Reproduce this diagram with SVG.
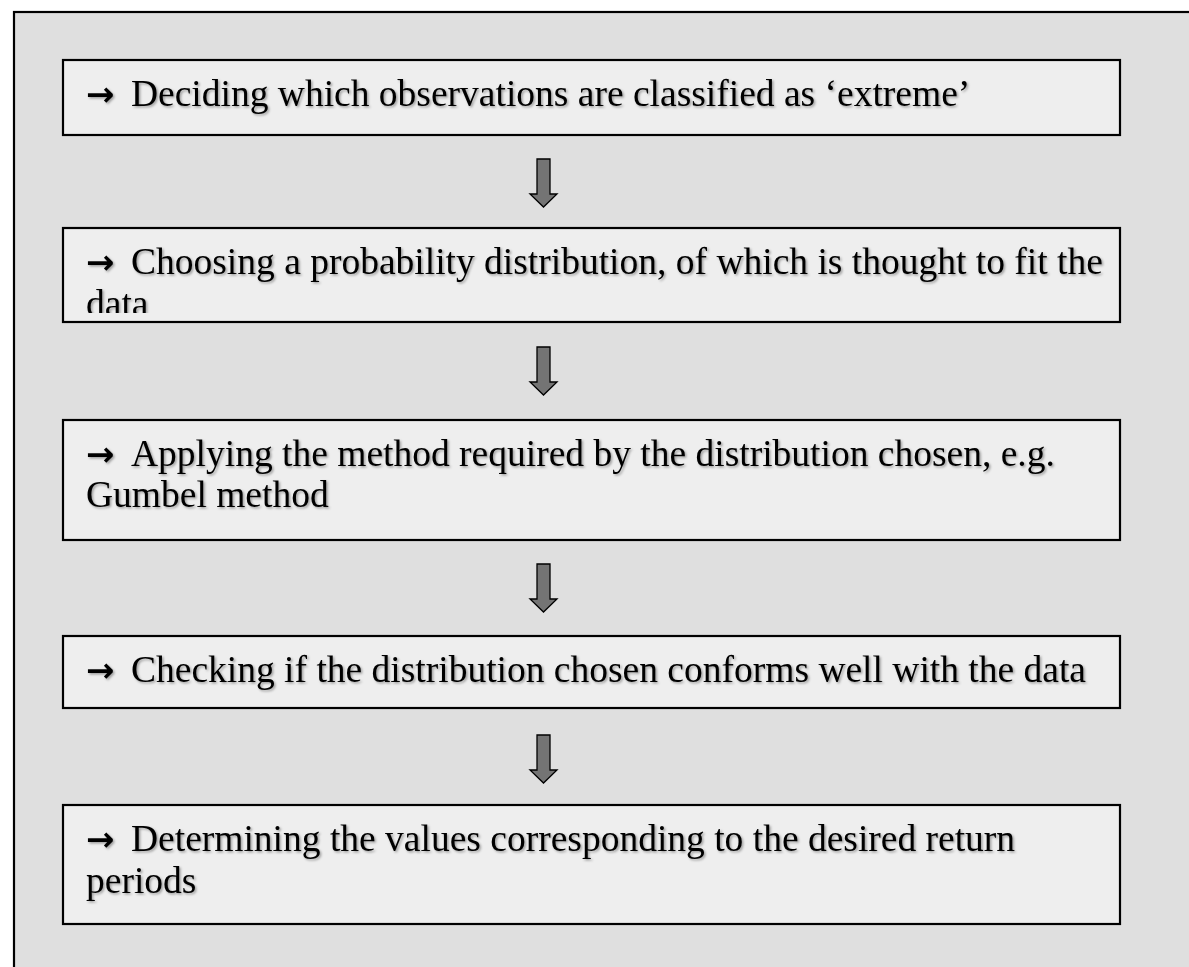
<svg xmlns="http://www.w3.org/2000/svg" width="1189" height="967" viewBox="0 0 1189 967">
<style>
.box{fill:#eeeeee;stroke:#000;stroke-width:2.2}
.t{font-family:"Liberation Serif","Times New Roman",serif;font-size:37.5px;fill:#000;filter:url(#sh)}
.ar{font-family:"DejaVu Sans",sans-serif;font-weight:bold;font-size:34px}
.conn{fill:#747474;stroke:#000;stroke-width:1.3;stroke-linejoin:miter}
</style>
<defs>
<filter id="sh" x="-5%" y="-20%" width="110%" height="150%">
<feDropShadow dx="1.5" dy="1.5" stdDeviation="0.8" flood-color="#000" flood-opacity="0.35"/>
</filter>
<clipPath id="c2"><rect x="63" y="229" width="1056" height="84"/></clipPath>
</defs>
<rect x="14" y="12" width="1200" height="1000" fill="#dfdfdf" stroke="#000" stroke-width="2.2"/>
<g id="n1">
<rect class="box" x="63" y="60" width="1057" height="75"/>
<text class="t" y="106"><tspan class="ar" x="86">→</tspan><tspan x="131">Deciding which observations are classified as ‘extreme’</tspan></text>
</g>
<g id="n2">
<rect class="box" x="63" y="228" width="1057" height="94"/>
<g clip-path="url(#c2)">
<text class="t" y="274"><tspan class="ar" x="86">→</tspan><tspan x="131">Choosing a probability distribution, of which is thought to fit the</tspan><tspan x="86" y="315.5">data</tspan></text>
</g>
</g>
<g id="n3">
<rect class="box" x="63" y="420" width="1057" height="120"/>
<text class="t" y="466"><tspan class="ar" x="86">→</tspan><tspan x="131">Applying the method required by the distribution chosen, e.g.</tspan><tspan x="86" y="507">Gumbel method</tspan></text>
</g>
<g id="n4">
<rect class="box" x="63" y="636" width="1057" height="72"/>
<text class="t" y="682"><tspan class="ar" x="86">→</tspan><tspan x="131">Checking if the distribution chosen conforms well with the data</tspan></text>
</g>
<g id="n5">
<rect class="box" x="63" y="805" width="1057" height="119"/>
<text class="t" y="851"><tspan class="ar" x="86">→</tspan><tspan x="131">Determining the values corresponding to the desired return</tspan><tspan x="86" y="892.5">periods</tspan></text>
</g>
<g id="connectors">
<polygon class="conn" points="537,159 550,159 550,194 557,194 543.5,207 530,194 537,194"/>
<polygon class="conn" points="537,347 550,347 550,382 557,382 543.5,395 530,382 537,382"/>
<polygon class="conn" points="537,564 550,564 550,599 557,599 543.5,612 530,599 537,599"/>
<polygon class="conn" points="537,735 550,735 550,770 557,770 543.5,783 530,770 537,770"/>
</g>
</svg>
